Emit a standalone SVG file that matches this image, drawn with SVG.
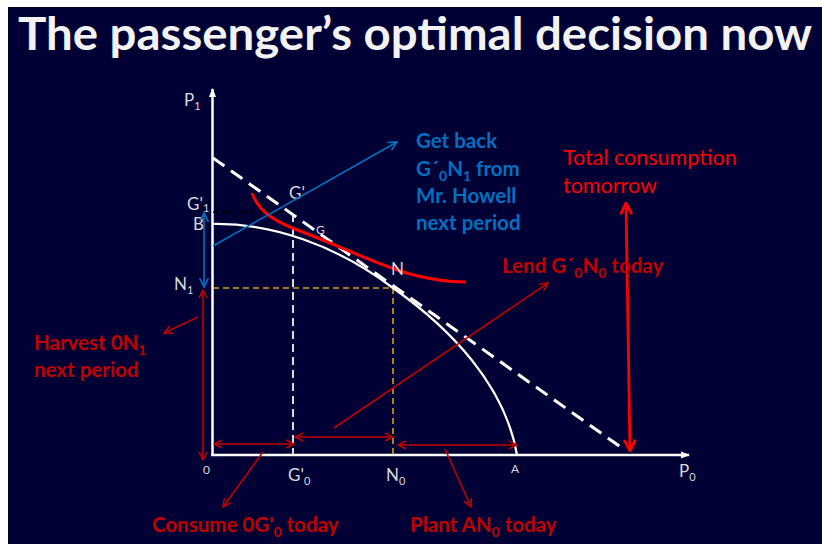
<svg xmlns="http://www.w3.org/2000/svg" width="822" height="544" viewBox="0 0 822 544">
<defs>
<style>
.ax{stroke:#ffffff;stroke-width:2.5;fill:none}
.lbl{font-family:Lato,"Open Sans","Liberation Sans",sans-serif;fill:#d9d9d9;font-size:17px}
.sm{font-size:12px}
.sub{font-size:11px}
.rb{font-family:Lato,"Open Sans","Liberation Sans",sans-serif;font-weight:700;fill:#c00000;font-size:20.5px}
.bb{font-family:Lato,"Open Sans","Liberation Sans",sans-serif;font-weight:700;fill:#0070c0;font-size:20.5px}
.rn{font-family:Lato,"Open Sans","Liberation Sans",sans-serif;fill:#ff0000;font-size:21.5px}
.dr{stroke:#c00000;stroke-width:1.6;fill:none}
.bl{stroke:#0070c0;stroke-width:1.6;fill:none}
</style>
<marker id="mr" viewBox="0 0 10 10" refX="9" refY="5" markerWidth="10" markerHeight="10" markerUnits="userSpaceOnUse" orient="auto-start-reverse"><path d="M1,1 L9,5 L1,9" fill="none" stroke="#c00000" stroke-width="1.5"/></marker>
<marker id="mb" viewBox="0 0 10 10" refX="9" refY="5" markerWidth="11" markerHeight="11" markerUnits="userSpaceOnUse" orient="auto-start-reverse"><path d="M1,1 L9,5 L1,9" fill="none" stroke="#0070c0" stroke-width="1.5"/></marker>
<marker id="mR" viewBox="0 0 10 10" refX="9" refY="5" markerWidth="14" markerHeight="14" markerUnits="userSpaceOnUse" orient="auto-start-reverse"><path d="M1,1 L9,5 L1,9" fill="none" stroke="#ff0000" stroke-width="2"/></marker>
<marker id="mw" viewBox="0 0 10 10" refX="9" refY="5" markerWidth="9" markerHeight="9" markerUnits="userSpaceOnUse" orient="auto"><path d="M0,1 L10,5 L0,9 Z" fill="#ffffff"/></marker>
</defs>
<rect x="0" y="0" width="822" height="544" fill="#ffffff"/>
<rect x="8" y="7" width="814" height="537" fill="#000035"/>
<text x="18" y="50" font-family="Lato,'Open Sans','Liberation Sans',sans-serif" font-weight="700" font-size="46" fill="#f2f2f2" textLength="794" lengthAdjust="spacingAndGlyphs">The passenger’s optimal decision now</text>

<g id="axes">
<line class="ax" x1="212.5" y1="455" x2="212.5" y2="89" marker-end="url(#mw)"/>
<line class="ax" x1="211" y1="455" x2="689" y2="455" marker-end="url(#mw)"/>
</g>

<g id="guides">
<line x1="213" y1="212" x2="293" y2="212" stroke="#000000" stroke-width="1.5" stroke-dasharray="5,4"/>
<line x1="293" y1="214" x2="293" y2="455" stroke="#dcdcdc" stroke-width="2" stroke-dasharray="8,5"/>
<line x1="213" y1="288" x2="393" y2="288" stroke="#d4a017" stroke-width="1.6" stroke-dasharray="6,4"/>
<line x1="393" y1="288" x2="393" y2="455" stroke="#d4a017" stroke-width="1.6" stroke-dasharray="6,4"/>
</g>

<g id="ppf">
<path d="M213,224 C272,223 336,245 393,288 C450,328 505,385 517,455" fill="none" stroke="#ffffff" stroke-width="2.2"/>
</g>

<g id="budget-line">
<line x1="213" y1="158" x2="622" y2="448" stroke="#ffffff" stroke-width="3" stroke-dasharray="14,8"/>
</g>

<g id="indifference">
<path d="M252,193 C258,210 272,220 295,229 C340,246 380,266 410,274 C432,280 450,282 465,282" fill="none" stroke="#ff0000" stroke-width="3"/>
</g>

<g id="axis-labels">
<text class="lbl" x="184" y="106">P<tspan class="sub" dy="4">1</tspan></text>
<text class="lbl" x="187" y="210">G'<tspan class="sub" dy="2">1</tspan></text>
<text class="lbl" x="193" y="230">B</text>
<text class="lbl" x="174" y="290">N<tspan class="sub" dy="4">1</tspan></text>
<text class="lbl" x="289" y="199">G'</text>
<text class="lbl sm" x="316" y="234">G</text>
<text class="lbl" x="391" y="275">N</text>
<text class="lbl sm" x="203" y="474">0</text>
<text class="lbl" x="288" y="481">G'<tspan class="sub" dy="4">0</tspan></text>
<text class="lbl" x="386" y="481">N<tspan class="sub" dy="4">0</tspan></text>
<text class="lbl sm" x="511" y="473">A</text>
<text class="lbl" x="679" y="477">P<tspan class="sub" dy="4">0</tspan></text>
</g>

<g id="connectors">
<line class="bl" x1="204" y1="213" x2="204" y2="287" marker-start="url(#mb)" marker-end="url(#mb)"/>
<line class="bl" x1="213" y1="246" x2="397" y2="142" marker-end="url(#mb)"/>
<line class="dr" x1="203" y1="290" x2="203" y2="460" marker-start="url(#mr)" marker-end="url(#mr)"/>
<line class="dr" x1="198" y1="317" x2="164" y2="333" marker-end="url(#mr)"/>
<line class="dr" x1="214" y1="444" x2="294" y2="444" marker-start="url(#mr)" marker-end="url(#mr)"/>
<line class="dr" x1="295" y1="437" x2="393" y2="437" marker-start="url(#mr)" marker-end="url(#mr)"/>
<line class="dr" x1="398" y1="445" x2="517" y2="445" marker-start="url(#mr)" marker-end="url(#mr)"/>
<line class="dr" x1="263" y1="452" x2="223" y2="507" marker-end="url(#mr)"/>
<line class="dr" x1="445" y1="449" x2="471" y2="507" marker-end="url(#mr)"/>
<line class="dr" x1="334" y1="428" x2="548" y2="283" marker-end="url(#mr)"/>
<line x1="626" y1="203" x2="630" y2="451" stroke="#ff0000" stroke-width="2.8" marker-start="url(#mR)" marker-end="url(#mR)"/>
</g>

<g id="blue-label">
<text class="bb" x="416" y="148">Get back</text>
<text class="bb" x="416" y="176">G´<tspan font-size="14" dy="5">0</tspan><tspan dy="-5">N</tspan><tspan font-size="14" dy="5">1</tspan><tspan dy="-5"> from</tspan></text>
<text class="bb" x="416" y="203">Mr. Howell</text>
<text class="bb" x="416" y="230">next period</text>
</g>

<g id="red-labels">
<text class="rb" x="34" y="350">Harvest 0N<tspan font-size="14" dy="5">1</tspan></text>
<text class="rb" x="34" y="377">next period</text>
<text class="rb" x="152" y="532">Consume 0G'<tspan font-size="14" dy="5">0</tspan><tspan dy="-5"> today</tspan></text>
<text class="rb" x="410" y="532">Plant AN<tspan font-size="14" dy="5">0</tspan><tspan dy="-5"> today</tspan></text>
<text class="rb" x="502" y="273">Lend G´<tspan font-size="14" dy="5">0</tspan><tspan dy="-5">N</tspan><tspan font-size="14" dy="5">0</tspan><tspan dy="-5"> today</tspan></text>
<text class="rn" x="563" y="165">Total consumption</text>
<text class="rn" x="563" y="193">tomorrow</text>
</g>
</svg>
